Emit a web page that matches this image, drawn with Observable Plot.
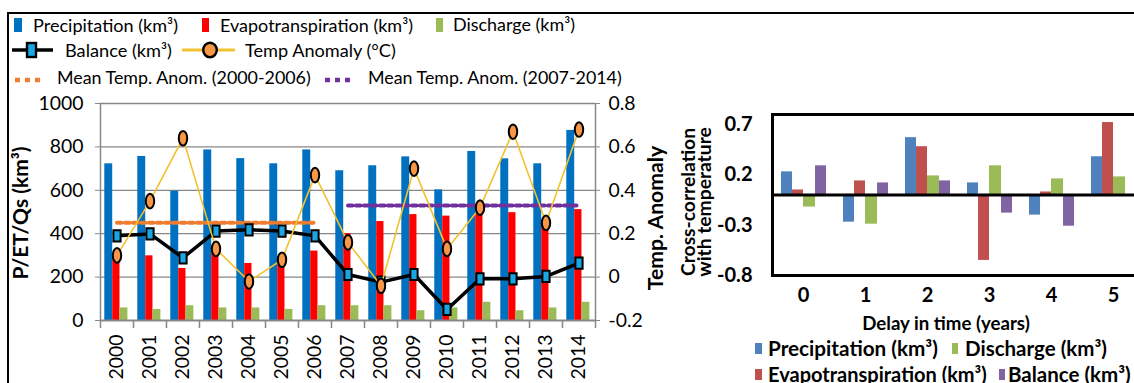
<!DOCTYPE html>
<html>
<head>
<meta charset="utf-8">
<script src="https://cdn.jsdelivr.net/npm/d3@7"></script>
<script src="https://cdn.jsdelivr.net/npm/@observablehq/plot@0.6"></script>
<style>
  html, body { margin: 0; padding: 0; background: #fff; }
  #wrap { position: relative; width: 1134px; height: 383px; overflow: hidden; font-family: Lato, sans-serif; color: #000; background: #fff; }
  .abs { position: absolute; white-space: nowrap; line-height: 1; }
  .sw { position: absolute; }
  #frame { position: absolute; left: 7px; top: 12px; width: 1200px; height: 400px; border-left: 2px solid #000; border-top: 2px solid #000; }
</style>
</head>
<body>
<div id="wrap">
  <div id="frame"></div>
</div>
<script>
// ---------- Data ----------
const years = ["2000","2001","2002","2003","2004","2005","2006","2007","2008","2009","2010","2011","2012","2013","2014"];
const precipitation = [722, 756, 596, 786, 746, 722, 786, 690, 713, 754, 602, 779, 745, 722, 876];
const evapotranspiration = [280, 298, 240, 310, 263, 262, 320, 400, 456, 488, 481, 500, 497, 455, 511];
const discharge = [58, 51, 68, 58, 58, 51, 68, 68, 68, 45, 58, 84, 45, 58, 84];
const balance = [390, 399, 289, 412, 418, 412, 390, 212, 177, 212, 51, 192, 192, 203, 264];
const tempAnomaly = [0.10, 0.35, 0.64, 0.13, -0.02, 0.08, 0.47, 0.16, -0.04, 0.50, 0.13, 0.32, 0.67, 0.25, 0.68];
const meanPeriod1 = { years: ["2000","2001","2002","2003","2004","2005","2006"], value: 0.25 };
const meanPeriod2 = { years: ["2007","2008","2009","2010","2011","2012","2013","2014"], value: 0.33 };
const leftTicks = [0, 200, 400, 600, 800, 1000];

const lags = ["0","1","2","3","4","5"];
const ccPrecipitation = [0.23, -0.27, 0.57, 0.12, -0.20, 0.38];
const ccEvapotranspiration = [0.05, 0.14, 0.48, -0.65, 0.03, 0.72];
const ccDischarge = [-0.12, -0.29, 0.19, 0.29, 0.16, 0.18];
const ccBalance = [0.29, 0.12, 0.14, -0.18, -0.31, 0.0];
const rightTicks = [-0.8, -0.3, 0.2, 0.7];

// ---------- Styles ----------
const cBlue = "#0070C0", cRed = "#FF0000", cGreen = "#9BBB59";
const cTemp = "#F2C12E", cTempDot = "#F79646", cBal = "#1AA6E2";
const cMean1 = "#ED7D31", cMean2 = "#7030A0";
const grid = "#878787";

// font sizing helper: size so that text spans a given pixel width
const mctx = document.createElement("canvas").getContext("2d");
function fit(text, weight, width) {
  mctx.font = `${weight} 100px Lato`;
  return +(100 * width / mctx.measureText(text).width).toFixed(2);
}
const fsTick = fit("1000", "normal", 45);
const fsTickB = fit("0.7", "bold", 28);

// temperature on secondary axis mapped to the primary scale: -0.2..0.8 -> 0..1000
const toPrimary = t => (t + 0.2) * 1000;

const ellipse = { draw(ctx) { const rx = 4.2, ry = 7.3, k = 0.5523;
  ctx.moveTo(rx, 0);
  ctx.bezierCurveTo(rx, ry*k, rx*k, ry, 0, ry);
  ctx.bezierCurveTo(-rx*k, ry, -rx, ry*k, -rx, 0);
  ctx.bezierCurveTo(-rx, -ry*k, -rx*k, -ry, 0, -ry);
  ctx.bezierCurveTo(rx*k, -ry, rx, -ry*k, rx, 0);
  ctx.closePath(); } };
const rectSym = { draw(ctx) { ctx.rect(-3.6, -5.6, 7.2, 11.2); } };

const idx = years.map((d, i) => i);
const L = { width: 640, height: 383, ml: 100, mr: 45, mt: 103, mb: 63 };
const bw = (L.width - L.ml - L.mr) / years.length;

const left = Plot.plot({
  width: L.width, height: L.height,
  marginLeft: L.ml, marginRight: L.mr, marginTop: L.mt, marginBottom: L.mb,
  x: { type: "band", domain: years, padding: 0 },
  y: { domain: [0, 1000] },
  style: { fontFamily: "Lato, sans-serif", background: "transparent", overflow: "visible", color: "#000" },
  marks: [
    Plot.gridY(leftTicks.filter(d => d > 0), { stroke: grid, strokeOpacity: 1, strokeWidth: 1.3 }),
    Plot.barY(idx, { x: i => years[i], y: i => precipitation[i], fill: cBlue, insetLeft: bw*0.13, insetRight: bw*0.63 }),
    Plot.barY(idx, { x: i => years[i], y: i => evapotranspiration[i], fill: cRed, insetLeft: bw*0.37, insetRight: bw*0.41 }),
    Plot.barY(idx, { x: i => years[i], y: i => discharge[i], fill: cGreen, insetLeft: bw*0.59, insetRight: bw*0.17 }),
    Plot.ruleY([0], { stroke: grid, strokeWidth: 2 }),
    Plot.ruleX([years[0]], { dx: -bw/2, y1: 0, y2: 1000, stroke: grid, strokeWidth: 1.5 }),
    Plot.ruleX([years[years.length-1]], { dx: bw/2, y1: 0, y2: 1000, stroke: grid, strokeWidth: 1.5 }),
    Plot.ruleX(years, { dx: -bw/2, y1: 0, y2: -37, stroke: grid, strokeWidth: 1.5 }),
    Plot.ruleX([years[years.length-1]], { dx: bw/2, y1: 0, y2: -37, stroke: grid, strokeWidth: 1.5 }),
    Plot.lineY(meanPeriod1.years, { x: d => d, y: () => toPrimary(meanPeriod1.value), stroke: cMean1, strokeWidth: 4, strokeDasharray: "4.5,3.5" }),
    Plot.lineY(meanPeriod2.years, { x: d => d, y: () => toPrimary(meanPeriod2.value), stroke: cMean2, strokeWidth: 4, strokeDasharray: "4.5,3.5" }),
    Plot.line(idx, { x: i => years[i], y: i => balance[i], stroke: "#000", strokeWidth: 3.5 }),
    Plot.dot(idx, { x: i => years[i], y: i => balance[i], symbol: rectSym, fill: cBal, stroke: "#000", strokeWidth: 2 }),
    Plot.line(idx, { x: i => years[i], y: i => toPrimary(tempAnomaly[i]), stroke: cTemp, strokeWidth: 1.6 }),
    Plot.dot(idx, { x: i => years[i], y: i => toPrimary(tempAnomaly[i]), symbol: ellipse, fill: cTempDot, stroke: "#000", strokeWidth: 2 }),
    Plot.axisY({ ticks: leftTicks, tickSize: 5, tickPadding: 12, stroke: grid, fill: "#000", fontSize: fsTick, label: null, tickFormat: d => String(d) }),
    Plot.axisY({ anchor: "right", ticks: leftTicks, tickSize: 4, tickPadding: 9, stroke: grid, fill: "#000", fontSize: fsTick, label: null,
      tickFormat: d => { const v = Math.round((d / 1000 - 0.2) * 10) / 10; return v === 0 ? "0" : String(v); } }),
    Plot.axisX({ tickRotate: -90, tickSize: 0, tickPadding: 14, fontSize: fsTick, fill: "#000", label: null })
  ]
});
left.style.position = "absolute"; left.style.left = "0px"; left.style.top = "0px";

const R = { width: 504, height: 383, ml: 132, mr: 0, mt: 114, mb: 108 };
const rbw = (R.width - R.ml - R.mr) / lags.length;
const ridx = lags.map((d, i) => i);
const right = Plot.plot({
  width: R.width, height: R.height,
  marginLeft: R.ml, marginRight: R.mr, marginTop: R.mt, marginBottom: R.mb,
  x: { type: "band", domain: lags, padding: 0 },
  y: { domain: [-0.8, 0.8] },
  style: { fontFamily: "Lato, sans-serif", background: "transparent", overflow: "visible", color: "#000" },
  marks: [
    Plot.barY(ridx, { x: i => lags[i], y: i => ccPrecipitation[i], fill: "#4F81BD", insetLeft: rbw*0.145, insetRight: rbw*0.677 }),
    Plot.barY(ridx, { x: i => lags[i], y: i => ccEvapotranspiration[i], fill: "#C0504D", insetLeft: rbw*0.323, insetRight: rbw*0.5 }),
    Plot.barY(ridx, { x: i => lags[i], y: i => ccDischarge[i], fill: "#9BBB59", insetLeft: rbw*0.5, insetRight: rbw*0.306 }),
    Plot.barY(ridx, { x: i => lags[i], y: i => ccBalance[i], fill: "#8064A2", insetLeft: rbw*0.694, insetRight: rbw*0.129 }),
    Plot.ruleY([0], { stroke: "#000", strokeWidth: 3 }),
    Plot.frame({ stroke: "#000", strokeWidth: 3 }),
    Plot.axisY({ ticks: rightTicks, tickSize: 0, tickPadding: 20, fontSize: fsTickB, fontWeight: "bold", fill: "#000", label: null, tickFormat: d => String(d) }),
    Plot.axisX({ tickSize: 0, tickPadding: 12, fontSize: fsTickB, fontWeight: "bold", fill: "#000", label: null })
  ]
});
right.style.position = "absolute"; right.style.left = "640px"; right.style.top = "0px";

const wrap = document.getElementById("wrap");
wrap.appendChild(left);
wrap.appendChild(right);

// ---------- Text and legends ----------
function add(html) { wrap.insertAdjacentHTML("beforeend", html); }
function sw(x, y, w, h, c) { add(`<div class="sw" style="left:${x}px;top:${y}px;width:${w}px;height:${h}px;background:${c}"></div>`); }
function txt(text, x, cy, width, weight = "normal") {
  const fs = fit(text, weight, width);
  add(`<div class="abs" style="left:${x}px;top:${cy}px;transform:translateY(-50%);font-size:${fs}px;font-weight:${weight}">${text}</div>`);
}
function rot(text, cx, cy, width, extra = "") {
  const fs = fit(text, "bold", width);
  add(`<div class="abs" style="left:${cx}px;top:${cy}px;transform:translate(-50%,-50%) rotate(-90deg);font-size:${fs}px;font-weight:bold;${extra}">${text}</div>`);
}

// left legend, row 1
sw(14, 18, 8, 14, cBlue);  txt("Precipitation (km³)", 33, 25, 145);
sw(202, 18, 7, 14, cRed);  txt("Evapotranspiration (km³)", 220, 25, 193);
sw(436, 18, 7, 14, cGreen); txt("Discharge (km³)", 453, 25, 122);
// row 2
add(`<svg class="sw" style="left:10px;top:40px" width="46" height="20">
  <line x1="2" y1="10" x2="43" y2="10" stroke="#000" stroke-width="3.5"/>
  <rect x="27" y="3" width="9" height="14" fill="${cBal}" stroke="#000" stroke-width="2.4" transform="translate(-10,0)"/></svg>`);
txt("Balance (km³)", 65, 50, 107);
add(`<svg class="sw" style="left:180px;top:40px" width="58" height="20">
  <line x1="2" y1="10" x2="55" y2="10" stroke="${cTemp}" stroke-width="3"/>
  <ellipse cx="30" cy="10" rx="6.8" ry="7.3" fill="${cTempDot}" stroke="#000" stroke-width="2.4"/></svg>`);
txt("Temp Anomaly (°C)", 245, 50, 152);
// row 3
add(`<svg class="sw" style="left:15px;top:76px" width="30" height="8">
  <line x1="0" y1="4" x2="25" y2="4" stroke="${cMean1}" stroke-width="4.5" stroke-dasharray="5,5"/></svg>`);
txt("Mean Temp. Anom. (2000-2006)", 57, 78, 255);
add(`<svg class="sw" style="left:325px;top:76px" width="30" height="8">
  <line x1="0" y1="4" x2="25" y2="4" stroke="${cMean2}" stroke-width="4.5" stroke-dasharray="5,5"/></svg>`);
txt("Mean Temp. Anom. (2007-2014)", 368, 78, 255);

// axis titles
rot("P/ET/Qs (km³)", 20, 213, 133);
rot("Temp. Anomaly", 656, 218, 145);
{
  const fs = fit("Cross-correlation", "bold", 148);
  add(`<div class="abs" style="left:695px;top:202px;transform:translate(-50%,-50%) rotate(-90deg);font-size:${fs}px;font-weight:bold;line-height:15.5px;text-align:center">Cross-correlation<br>with temperature</div>`);
}
{
  const fs = fit("Delay in time (years)", "bold", 168);
  add(`<div class="abs" style="left:946px;top:323px;transform:translate(-50%,-50%);font-size:${fs}px;font-weight:bold">Delay in time (years)</div>`);
}

// right legend
sw(755, 343, 7, 11, "#4F81BD"); txt("Precipitation (km³)", 768, 348, 170, "bold");
sw(952, 343, 6, 11, "#9BBB59"); txt("Discharge (km³)", 965, 348, 142, "bold");
sw(755, 369, 7, 11, "#C0504D"); txt("Evapotranspiration (km³)", 768, 374, 219, "bold");
sw(999, 369, 6, 11, "#8064A2");
{
  const fs = fit("Discharge (km³)", "bold", 142);
  add(`<div class="abs" style="left:1008px;top:374px;transform:translateY(-50%);font-size:${fs}px;font-weight:bold">Balance (km³)</div>`);
}
</script>
</body>
</html>
